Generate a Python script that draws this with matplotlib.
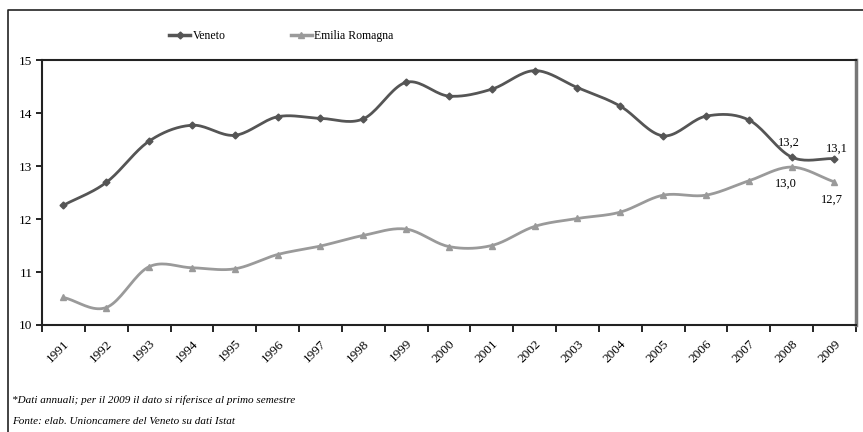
import matplotlib.pyplot as plt
import numpy as np
from matplotlib.lines import Line2D

plt.rcParams['font.family'] = ['Liberation Serif', 'DejaVu Serif']

anni = [str(a) for a in range(1991, 2010)]
veneto = [12.26, 12.69, 13.47, 13.77, 13.58, 13.93, 13.90, 13.89, 14.58, 14.32,
          14.45, 14.80, 14.48, 14.13, 13.57, 13.94, 13.87, 13.17, 13.14]
emilia = [10.52, 10.33, 11.10, 11.08, 11.06, 11.33, 11.49, 11.69, 11.81, 11.48,
          11.50, 11.86, 12.01, 12.13, 12.45, 12.45, 12.72, 12.98, 12.70]


def smooth(x, y, n=20):
    # curva Catmull-Rom tra i punti, come la linea smussata di Excel
    x = np.asarray(x, float)
    y = np.asarray(y, float)
    px = np.concatenate([[2 * x[0] - x[1]], x, [2 * x[-1] - x[-2]]])
    py = np.concatenate([[2 * y[0] - y[1]], y, [2 * y[-1] - y[-2]]])
    xs, ys = [], []
    t = np.linspace(0, 1, n, endpoint=False)
    for i in range(1, len(px) - 2):
        for p, out in ((px, xs), (py, ys)):
            p0, p1, p2, p3 = p[i - 1], p[i], p[i + 1], p[i + 2]
            out.extend(0.5 * (2 * p1 + (-p0 + p2) * t
                              + (2 * p0 - 5 * p1 + 4 * p2 - p3) * t ** 2
                              + (-p0 + 3 * p1 - 3 * p2 + p3) * t ** 3))
    xs.append(x[-1])
    ys.append(y[-1])
    return np.array(xs), np.array(ys)


fig = plt.figure(figsize=(8.63, 4.32), dpi=100)
ax = fig.add_axes([0.0487, 0.2477, 0.943, 0.6133])

x = np.arange(len(anni))
c_ven = '#555555'
c_emi = '#9a9a9a'

sx, sy = smooth(x, veneto)
ax.plot(sx, sy, color=c_ven, lw=2.0, zorder=3)
ax.plot(x, veneto, ls='none', marker='D', ms=3.5, color=c_ven, zorder=4)
sx, sy = smooth(x, emilia)
ax.plot(sx, sy, color=c_emi, lw=2.0, zorder=3)
ax.plot(x, emilia, ls='none', marker='^', ms=5, color=c_emi, zorder=4)

# etichette sugli ultimi due anni
def lab(v):
    return f'{v:.1f}'.replace('.', ',')

ax.annotate(lab(veneto[17]), (x[17], veneto[17]), xytext=(-2, 8),
            textcoords='offset points', ha='center', fontsize=9)
ax.annotate(lab(veneto[18]), (x[18], veneto[18]), xytext=(2, 5),
            textcoords='offset points', ha='center', fontsize=9)
ax.annotate(lab(emilia[17]), (x[17], emilia[17]), xytext=(-4, -14),
            textcoords='offset points', ha='center', fontsize=9)
ax.annotate(lab(emilia[18]), (x[18], emilia[18]), xytext=(-2, -15),
            textcoords='offset points', ha='center', fontsize=9)

ax.set_xlim(-0.5, len(anni) - 0.5)
ax.set_ylim(10, 15)
ax.set_yticks([10, 11, 12, 13, 14, 15])
ax.set_xticks(x)
ax.set_xticklabels(anni, rotation=45, ha='right', rotation_mode='anchor',
                   fontsize=9.5)
ax.set_xticks(np.arange(-0.5, len(anni)), minor=True)
ax.tick_params(axis='x', which='major', length=0, pad=9)
ax.tick_params(axis='x', which='minor', length=5, width=1.2, direction='out')
ax.tick_params(axis='y', length=4, width=1.2, labelsize=9.5, pad=3)
for s in ('left', 'bottom', 'top'):
    ax.spines[s].set_linewidth(1.5)
    ax.spines[s].set_color('#222222')
ax.spines['right'].set_linewidth(2.5)
ax.spines['right'].set_color('#777777')

handles = [Line2D([], [], color=c_ven, lw=2.5, marker='D', ms=3.5),
           Line2D([], [], color=c_emi, lw=2.5, marker='^', ms=5)]
fig.legend(handles, ['Veneto', 'Emilia Romagna'], loc='center',
           bbox_to_anchor=(0.326, 0.917), ncol=2, frameon=False, fontsize=8.5,
           handlelength=1.8, handletextpad=0.2, columnspacing=5.5)

# cornice esterna
fig.add_artist(Line2D([8 / 863, 8 / 863, 1], [0, 1 - 10 / 432, 1 - 10 / 432],
                      transform=fig.transFigure, color='#222222', lw=1.2))

fig.text(12 / 863, 1 - 400 / 432,
         '*Dati annuali; per il 2009 il dato si riferisce al primo semestre',
         fontsize=8, fontstyle='italic', va='center')
fig.text(12 / 863, 1 - 422 / 432,
         'Fonte: elab. Unioncamere del Veneto su dati Istat',
         fontsize=8, fontstyle='italic', va='center')

fig.savefig('out.png', dpi=100)
